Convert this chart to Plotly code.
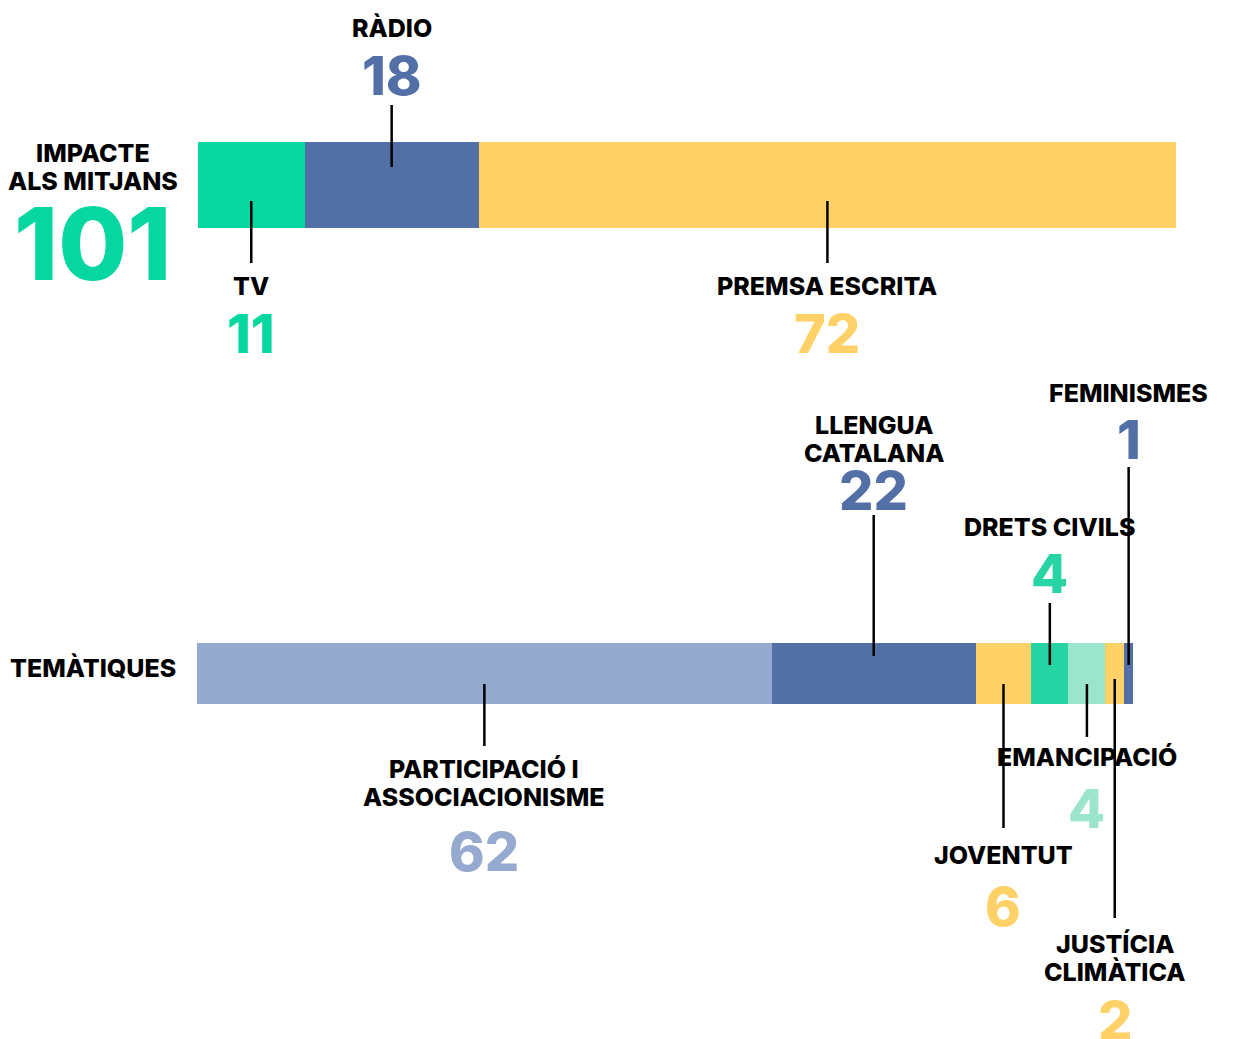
import plotly.graph_objects as go

# ---- data ----
media_labels = ["TV", "RÀDIO", "PREMSA ESCRITA"]
media_values = [11, 18, 72]
media_colors = ["#06D6A0", "#5270A6", "#FFD166"]
media_total_label = ["IMPACTE", "ALS MITJANS"]

topic_labels = ["PARTICIPACIÓ I\nASSOCIACIONISME", "LLENGUA\nCATALANA", "JOVENTUT",
                "DRETS CIVILS", "EMANCIPACIÓ", "JUSTÍCIA\nCLIMÀTICA", "FEMINISMES"]
topic_values = [62, 22, 6, 4, 4, 2, 1]
topic_colors = ["#96AACF", "#5270A6", "#FFD166", "#26D5A3", "#9BE5CC", "#FFD166", "#5270A6"]
topic_title = "TEMÀTIQUES"

# ---- layout / style ----
OFF = 8  # page body margin
W, H = 1245 - OFF, 1039 - OFF
FONT = "Inter"
LBL = 25
NUM = 54
TOP_Y, TOP_H = 185, 86
BOT_Y, BOT_H = 673.5, 61

# placement in page pixels: (line_top, line_bottom, first label line y, number y)
media_place = [
    (201, 263, 286, 333),
    (105, 167, 28, 75),
    (201, 263, 286, 333),
]
topic_place = [
    (684, 746, 769, 851),
    (515, 656, 425, 490),
    (684, 828, 855, 906),
    (603, 665, 527, 573),
    (684, 737, 757, 808),
    (679, 918, 944, 1020),
    (467, 665, 393, 439),
]


def py(v):
    return v - OFF


fig = go.Figure()

for lab, val, col in zip(media_labels, media_values, media_colors):
    fig.add_trace(go.Bar(x=[val], y=[py(TOP_Y)], width=[TOP_H], orientation="h",
                         marker=dict(color=col, line=dict(width=0)),
                         xaxis="x", yaxis="y", hoverinfo="skip", showlegend=False))
for lab, val, col in zip(topic_labels, topic_values, topic_colors):
    fig.add_trace(go.Bar(x=[val], y=[py(BOT_Y)], width=[BOT_H], orientation="h",
                         marker=dict(color=col, line=dict(width=0)),
                         xaxis="x2", yaxis="y2", hoverinfo="skip", showlegend=False))

annotations = []
shapes = []


def add_text(x, y, text, size, color, xref, yref):
    annotations.append(dict(x=x, y=py(y), xref=xref, yref=yref, text=text, showarrow=False,
                            xanchor="center", yanchor="middle",
                            font=dict(family=FONT, size=size, color=color, weight=800)))


def place(labels, values, colors, places, xref, yref):
    cum = 0
    for lab, val, col, (l0, l1, ly, ny) in zip(labels, values, colors, places):
        cx = cum + val / 2
        cum += val
        shapes.append(dict(type="line", xref=xref, yref=yref, x0=cx, x1=cx,
                           y0=py(l0), y1=py(l1), line=dict(color="#000000", width=2.5)))
        for i, t in enumerate(lab.split("\n")):
            add_text(cx, ly + i * 28, t, LBL, "#000000", xref, yref)
        add_text(cx, ny, str(val), NUM, col, xref, yref)


place(media_labels, media_values, media_colors, media_place, "x", "y")
place(topic_labels, topic_values, topic_colors, topic_place, "x2", "y2")

# left titles
for i, t in enumerate(media_total_label):
    add_text((93 - OFF) / W, 153 + i * 28, t, LBL, "#000000", "paper", "y")
add_text((93 - OFF) / W, 243, str(sum(media_values)), 100, "#06D6A0", "paper", "y")
add_text((93 - OFF) / W, 668, topic_title, LBL, "#000000", "paper", "y")

top_px = 978 / sum(media_values)
bot_px = 9.27
fig.update_layout(
    width=W, height=H,
    margin=dict(l=0, r=0, t=0, b=0),
    paper_bgcolor="white", plot_bgcolor="rgba(0,0,0,0)",
    barmode="stack", bargap=0,
    xaxis=dict(domain=[(198 - OFF) / W, (198 - OFF + top_px * sum(media_values)) / W],
               range=[0, sum(media_values)], visible=False, fixedrange=True, anchor="y"),
    yaxis=dict(domain=[0, 1], range=[H, 0], visible=False, fixedrange=True, anchor="x"),
    xaxis2=dict(domain=[(197 - OFF) / W, (197 - OFF + bot_px * sum(topic_values)) / W],
                range=[0, sum(topic_values)], visible=False, fixedrange=True, anchor="y2"),
    yaxis2=dict(domain=[0, 1], range=[H, 0], visible=False, fixedrange=True, anchor="x2"),
    annotations=annotations, shapes=shapes,
)

fig.write_html("out.html", config={"displayModeBar": False})
